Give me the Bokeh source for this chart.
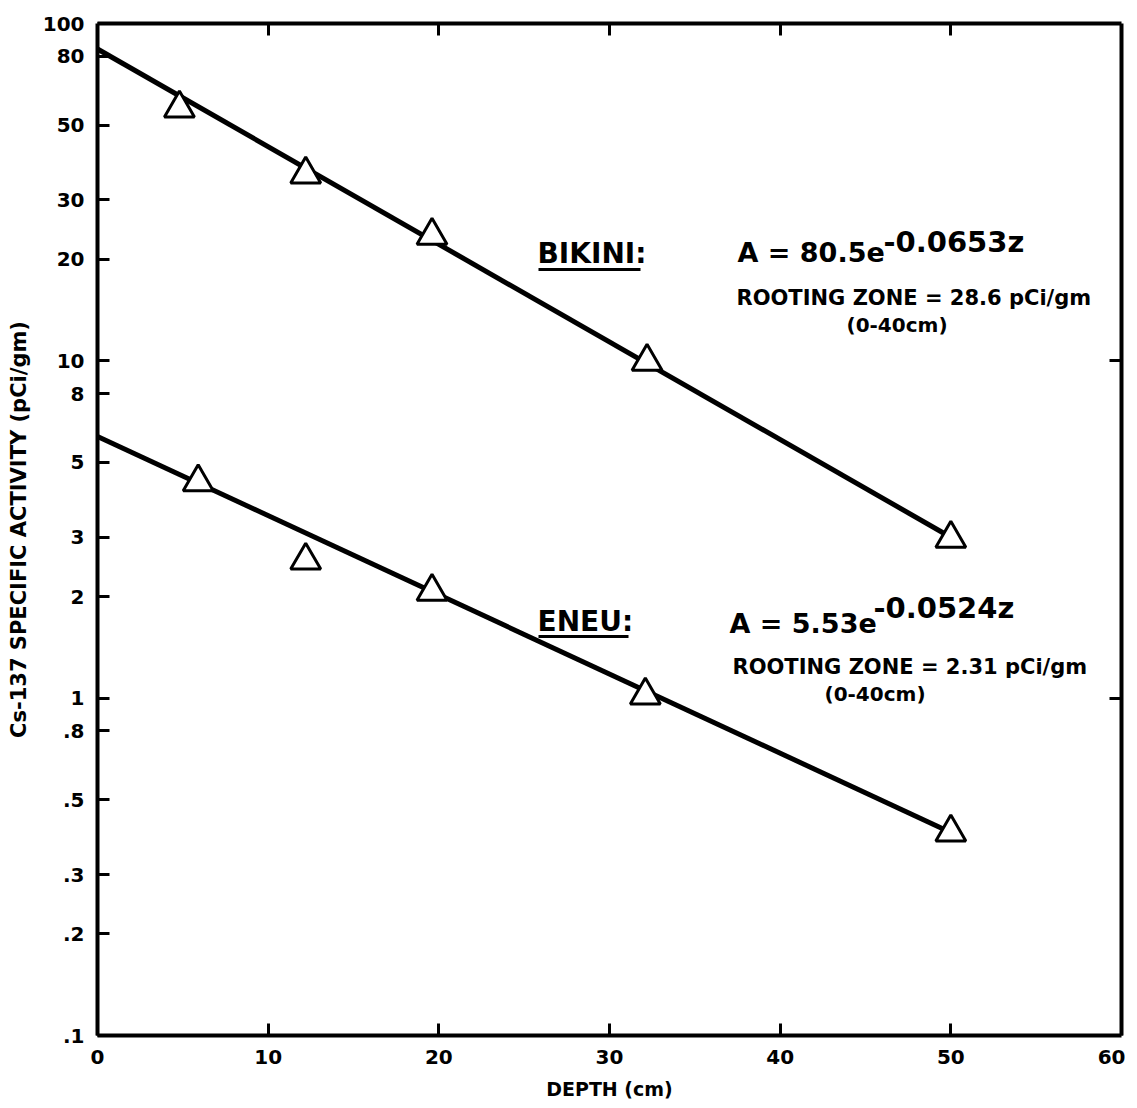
import math
from bokeh.plotting import figure
from bokeh.models import FixedTicker, LinearAxis, LogAxis, Label, Range1d
from bokeh.embed import file_html
from bokeh.resources import INLINE

# ---- data ----
bikini_depth = [4.8, 12.2, 19.6, 32.2, 50.0]
bikini_activity = [56.0, 35.7, 23.5, 9.95, 2.97]
eneu_depth = [5.9, 12.2, 19.6, 32.1, 50.0]
eneu_activity = [4.37, 2.56, 2.07, 1.02, 0.40]

bikini_fit_depth = [0.0, 50.0]
bikini_fit_activity = [84.0, 3.0]
eneu_fit_depth = [0.0, 50.0]
eneu_fit_activity = [5.97, 0.40]

x_ticks = [0, 10, 20, 30, 40, 50, 60]
y_ticks = [0.1, 0.2, 0.3, 0.5, 0.8, 1, 2, 3, 5, 8, 10, 20, 30, 50, 80, 100]
y_tick_labels = [".1", ".2", ".3", ".5", ".8", "1", "2", "3", "5", "8",
                 "10", "20", "30", "50", "80", "100"]

FONT = "DejaVu Sans"

# frame geometry (page pixels) used only to place annotations
FX0, FX1, FY0, FY1 = 97.0, 1121.0, 22.0, 1034.0
X0, X1 = 0.0, 60.0
LY0, LY1 = 2.0, -1.0   # log10 at top / bottom


def px(xp):
    return X0 + (xp - FX0) / (FX1 - FX0) * (X1 - X0)


def py(yp):
    return 10 ** (LY0 + (yp - FY0) / (FY1 - FY0) * (LY1 - LY0))


p = figure(
    y_axis_type="log",
    x_range=Range1d(0, 60),
    y_range=Range1d(0.1, 100),
    frame_width=1024, frame_height=1012,
    min_border_left=97, min_border_top=23, min_border_right=4, min_border_bottom=2,
    output_backend="svg", toolbar_location=None,
    background_fill_color="white", border_fill_color="white",
)
p.grid.visible = False
p.outline_line_color = None

# bottom axis
xa = p.xaxis[0]
xa.ticker = FixedTicker(ticks=x_ticks)
xa.axis_label = "DEPTH (cm)"
# left axis
ya = p.yaxis[0]
ya.ticker = FixedTicker(ticks=y_ticks)
ya.major_label_overrides = {t: l for t, l in zip(y_ticks, y_tick_labels)}
ya.axis_label = "Cs-137 SPECIFIC ACTIVITY (pCi/gm)"

top = LinearAxis(ticker=FixedTicker(ticks=x_ticks[1:-1]),
                 major_label_overrides={t: "" for t in x_ticks})
right = LogAxis(ticker=FixedTicker(ticks=[1, 10]),
                major_label_overrides={1: "", 10: ""})
p.add_layout(top, "above")
p.add_layout(right, "right")

for ax in [xa, ya, top, right]:
    ax.axis_line_width = 4
    ax.axis_line_color = "black"
    ax.major_tick_in = 12
    ax.major_tick_out = 0
    ax.major_tick_line_width = 3
    ax.major_tick_line_color = "black"
    ax.minor_tick_line_color = None
    ax.major_label_text_font = FONT
    ax.major_label_text_font_style = "bold"
    ax.major_label_text_font_size = "20px"
    ax.major_label_text_color = "black"
    ax.axis_label_text_font = FONT
    ax.axis_label_text_font_style = "bold"
    ax.axis_label_text_font_size = "19px"
    ax.axis_label_text_color = "black"

for ax in [top, right]:
    ax.major_label_text_font_size = "0px"
    ax.major_label_standoff = 0

ya.axis_label_text_font_size = "21px"
xa.major_label_standoff = 14
xa.axis_label_standoff = 11
ya.major_label_standoff = 13
ya.axis_label_standoff = 9

# fitted lines
p.line(bikini_fit_depth, bikini_fit_activity, line_color="black", line_width=5)
p.line(eneu_fit_depth, eneu_fit_activity, line_color="black", line_width=5)

# data points
p.scatter(bikini_depth, bikini_activity, marker="triangle", size=30,
          fill_color="white", line_color="black", line_width=3)
p.scatter(eneu_depth, eneu_activity, marker="triangle", size=30,
          fill_color="white", line_color="black", line_width=3)


def lab(text, xp, yp, size, align="left"):
    p.add_layout(Label(x=px(xp), y=py(yp), text=text, text_font=FONT,
                       text_font_style="bold", text_font_size=size,
                       text_color="black", text_align=align,
                       text_baseline="middle"))


# BIKINI annotation
lab("BIKINI:", 537, 252, "28px")
p.segment(x0=[px(538)], y0=[py(268)], x1=[px(640)], y1=[py(268)],
          line_color="black", line_width=3)
lab("A = 80.5e", 737, 251, "27px")
lab("-0.0653z", 883, 240, "29px")
lab("ROOTING ZONE = 28.6 pCi/gm", 736, 296, "21px")
lab("(0-40cm)", 846, 323, "20px")

# ENEU annotation
lab("ENEU:", 537, 620, "28px")
p.segment(x0=[px(538)], y0=[py(635)], x1=[px(628)], y1=[py(635)],
          line_color="black", line_width=3)
lab("A = 5.53e", 729, 622, "27px")
lab("-0.0524z", 873, 606, "29px")
lab("ROOTING ZONE = 2.31 pCi/gm", 732, 665, "21px")
lab("(0-40cm)", 824, 692, "20px")

open("out.html", "w").write(file_html(p, INLINE))
